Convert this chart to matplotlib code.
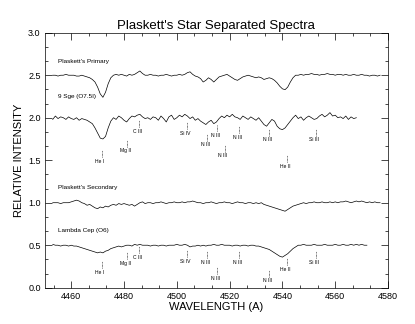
import numpy as np
import matplotlib
matplotlib.use("Agg")
import matplotlib.pyplot as plt
from matplotlib.ticker import MultipleLocator, AutoMinorLocator, FormatStrFormatter

plt.rcParams['font.family'] = ['Liberation Sans', 'DejaVu Sans']

# Wavelength grid (Angstrom), 1 A sampling
wave_start = 4453
primary_flux = [
    2.50, 2.50, 2.49, 2.50, 2.50, 2.51, 2.50, 2.50, 2.50, 2.49,   # 4453-4462
    2.49, 2.50, 2.49, 2.48, 2.47, 2.45, 2.42, 2.36, 2.28, 2.24,   # 4463-4472
    2.30, 2.40, 2.47, 2.50, 2.51, 2.50, 2.51, 2.50, 2.49, 2.51,   # 4473-4482
    2.50, 2.51, 2.53, 2.55, 2.52, 2.50, 2.50, 2.51, 2.50, 2.50,   # 4483-4492
    2.49, 2.50, 2.50, 2.51, 2.50, 2.49, 2.50, 2.50, 2.51, 2.50,   # 4493-4502
    2.51, 2.53, 2.54, 2.51, 2.49, 2.48, 2.46, 2.42, 2.44, 2.47,   # 4503-4512
    2.45, 2.42, 2.45, 2.48, 2.49, 2.50, 2.51, 2.49, 2.47, 2.45,   # 4513-4522
    2.44, 2.46, 2.48, 2.49, 2.50, 2.49, 2.48, 2.47, 2.48, 2.47,   # 4523-4532
    2.45, 2.46, 2.47, 2.46, 2.44, 2.41, 2.37, 2.34, 2.33, 2.36,   # 4533-4542
    2.42, 2.47, 2.50, 2.50, 2.51, 2.50, 2.51, 2.51, 2.52, 2.51,   # 4543-4552
    2.51, 2.50, 2.51, 2.51, 2.52, 2.51, 2.51, 2.50, 2.51, 2.51,   # 4553-4562
    2.50, 2.51, 2.50, 2.50, 2.51, 2.50, 2.50, 2.51, 2.50, 2.50,   # 4563-4572
    2.49, 2.50, 2.50, 2.49, 2.50,                                 # 4573-4577
]
sge_flux = [
    1.98, 2.02, 1.99, 2.01, 2.00, 1.98, 2.01, 1.99, 1.98, 2.00,   # 4453-4462
    1.97, 1.99, 1.98, 1.97, 1.95, 1.93, 1.88, 1.82, 1.76, 1.75,   # 4463-4472
    1.78, 1.88, 1.96, 2.00, 1.98, 2.02, 2.00, 1.97, 1.95, 1.99,   # 4473-4482
    2.02, 2.01, 2.03, 2.04, 2.01, 1.99, 2.00, 1.98, 2.01, 2.00,   # 4483-4492
    1.97, 2.02, 1.99, 1.95, 2.01, 2.03, 1.98, 2.00, 2.03, 2.01,   # 4493-4502
    2.04, 2.02, 1.99, 2.01, 1.97, 1.99, 1.96, 1.94, 1.92, 1.95,   # 4503-4512
    1.97, 1.93, 1.95, 1.99, 2.02, 2.00, 2.03, 2.01, 2.04, 2.01,   # 4513-4522
    2.00, 1.98, 2.02, 2.00, 1.98, 2.01, 1.99, 1.97, 2.00, 1.96,   # 4523-4532
    1.92, 1.90, 1.94, 1.98, 1.96, 1.90, 1.87, 1.86, 1.88, 1.92,   # 4533-4542
    1.96, 2.00, 2.03, 1.99, 2.01, 1.97, 2.00, 2.02, 2.00, 1.98,   # 4543-4552
    1.99, 2.02, 2.04, 2.01, 2.03, 2.06, 2.02, 2.03, 2.00, 2.01,   # 4553-4562
    1.99, 2.02, 1.98, 2.01, 1.99, 2.00,                           # 4563-4568
]
secondary_flux = [
    1.00, 1.00, 1.00, 0.99, 1.00, 1.00, 1.00, 1.01, 1.02, 1.03,   # 4453-4462
    1.02, 1.00, 0.99, 0.97, 0.98, 0.96, 0.94, 0.93, 0.95, 0.94,   # 4463-4472
    0.96, 0.95, 0.97, 0.98, 0.97, 0.99, 0.98, 0.99, 0.98, 0.97,   # 4473-4482
    0.98, 0.96, 0.98, 1.00, 1.01, 0.99, 1.00, 1.00, 0.99, 1.00,   # 4483-4492
    1.00, 1.01, 1.00, 0.99, 1.00, 1.00, 1.01, 1.00, 1.00, 1.01,   # 4493-4502
    1.00, 1.01, 1.01, 1.02, 1.01, 1.00, 1.00, 0.99, 1.00, 1.00,   # 4503-4512
    1.01, 1.00, 0.99, 1.00, 1.00, 1.01, 1.00, 1.00, 0.99, 1.00,   # 4513-4522
    1.01, 1.00, 1.00, 0.99, 1.00, 1.00, 0.99, 1.00, 0.99, 1.00,   # 4523-4532
    0.98, 0.97, 0.96, 0.95, 0.94, 0.93, 0.92, 0.91, 0.90, 0.92,   # 4533-4542
    0.94, 0.96, 0.97, 0.98, 0.99, 1.00, 0.99, 1.00, 1.00, 1.01,   # 4543-4552
    1.00, 1.00, 1.01, 1.00, 1.00, 1.01, 1.00, 1.01, 1.00, 1.01,   # 4553-4562
    1.01, 1.02, 1.01, 1.00, 1.01, 1.02, 1.01, 1.02, 1.01, 1.00,   # 4563-4572
    1.01, 1.00, 1.01, 1.00, 1.00,                                 # 4573-4577
]
lamcep_flux = [
    0.51, 0.50, 0.50, 0.49, 0.50, 0.50, 0.49, 0.50, 0.49, 0.49,   # 4453-4462
    0.48, 0.47, 0.46, 0.45, 0.44, 0.43, 0.42, 0.41, 0.42, 0.41,   # 4463-4472
    0.43, 0.44, 0.46, 0.47, 0.48, 0.49, 0.48, 0.49, 0.50, 0.50,   # 4473-4482
    0.49, 0.51, 0.50, 0.51, 0.50, 0.50, 0.50, 0.49, 0.50, 0.50,   # 4483-4492
    0.49, 0.50, 0.50, 0.49, 0.50, 0.50, 0.50, 0.51, 0.50, 0.50,   # 4493-4502
    0.51, 0.50, 0.48, 0.49, 0.49, 0.50, 0.49, 0.50, 0.49, 0.50,   # 4503-4512
    0.50, 0.51, 0.50, 0.50, 0.51, 0.50, 0.50, 0.50, 0.49, 0.50,   # 4513-4522
    0.50, 0.49, 0.50, 0.50, 0.49, 0.50, 0.50, 0.49, 0.49, 0.48,   # 4523-4532
    0.47, 0.46, 0.45, 0.43, 0.41, 0.39, 0.37, 0.36, 0.38, 0.40,   # 4533-4542
    0.43, 0.46, 0.48, 0.50, 0.50, 0.51, 0.50, 0.50, 0.50, 0.51,   # 4543-4552
    0.50, 0.50, 0.50, 0.51, 0.50, 0.50, 0.50, 0.51, 0.50, 0.50,   # 4553-4562
    0.51, 0.50, 0.50, 0.51, 0.50, 0.51, 0.50, 0.51, 0.50, 0.50,   # 4563-4572
]

spectra = [
    ("Plaskett's Primary", primary_flux, 2.66),
    ("9 Sge (O7.5I)", sge_flux, 2.25),
    ("Plaskett's Secondary", secondary_flux, 1.18),
    ("Lambda Cep (O6)", lamcep_flux, 0.67),
]

# Line identifications: wavelength, ion, label height under 9 Sge, label height under Lambda Cep
id_wave = [4471.5, 4481.2, 4485.8, 4503.9, 4511.4, 4515.3, 4518.1, 4523.6, 4535.0, 4541.6, 4552.6]
id_name = ["He I", "Mg II", "C III", "Si IV", "N III", "N III", "N III", "N III", "N III", "He II", "Si III"]
id_sge_y = [1.49, 1.61, 1.84, 1.82, 1.68, 1.79, 1.55, 1.77, 1.74, 1.43, 1.74]
id_cep_y = [0.18, 0.29, 0.36, 0.31, 0.30, 0.11, None, 0.30, 0.08, 0.22, 0.30]

fig = plt.figure(figsize=(4.15, 3.24), dpi=100)
ax = fig.add_axes([0.108, 0.112, 0.827, 0.787])

for name, flux, ylab in spectra:
    w = wave_start + np.arange(len(flux))
    ax.plot(w, flux, color='black', lw=0.5)
    ax.text(4455, ylab, name, fontsize=4.6, ha='left', va='center')

tick_len = 0.08
for w, name, ys, yc in zip(id_wave, id_name, id_sge_y, id_cep_y):
    for y in (ys, yc):
        if y is None:
            continue
        ax.text(w - 0.6, y, name, fontsize=3.6, ha='center', va='center')
        ax.plot([w, w], [y + 0.05, y + 0.05 + tick_len], color='black', lw=0.5, ls=(0, (1, 1)))

ax.set_xlim(4450, 4580)
ax.set_ylim(0.0, 3.0)
ax.xaxis.set_major_locator(MultipleLocator(20))
ax.xaxis.set_minor_locator(AutoMinorLocator(3))
ax.yaxis.set_major_locator(MultipleLocator(0.5))
ax.yaxis.set_minor_locator(AutoMinorLocator(3))
ax.yaxis.set_major_formatter(FormatStrFormatter('%.1f'))
ax.tick_params(which='both', direction='in', top=True, right=True, width=0.5, labelsize=6.5, pad=3)
ax.tick_params(which='major', length=5)
ax.tick_params(which='minor', length=2.5)
for s in ax.spines.values():
    s.set_linewidth(0.5)

ax.set_title("Plaskett's Star Separated Spectra", fontsize=9.5, pad=3)
ax.set_xlabel("WAVELENGTH (A)", fontsize=8, labelpad=1)
ax.set_ylabel("RELATIVE INTENSITY", fontsize=8, labelpad=3)

fig.savefig("out.png", dpi=100)
